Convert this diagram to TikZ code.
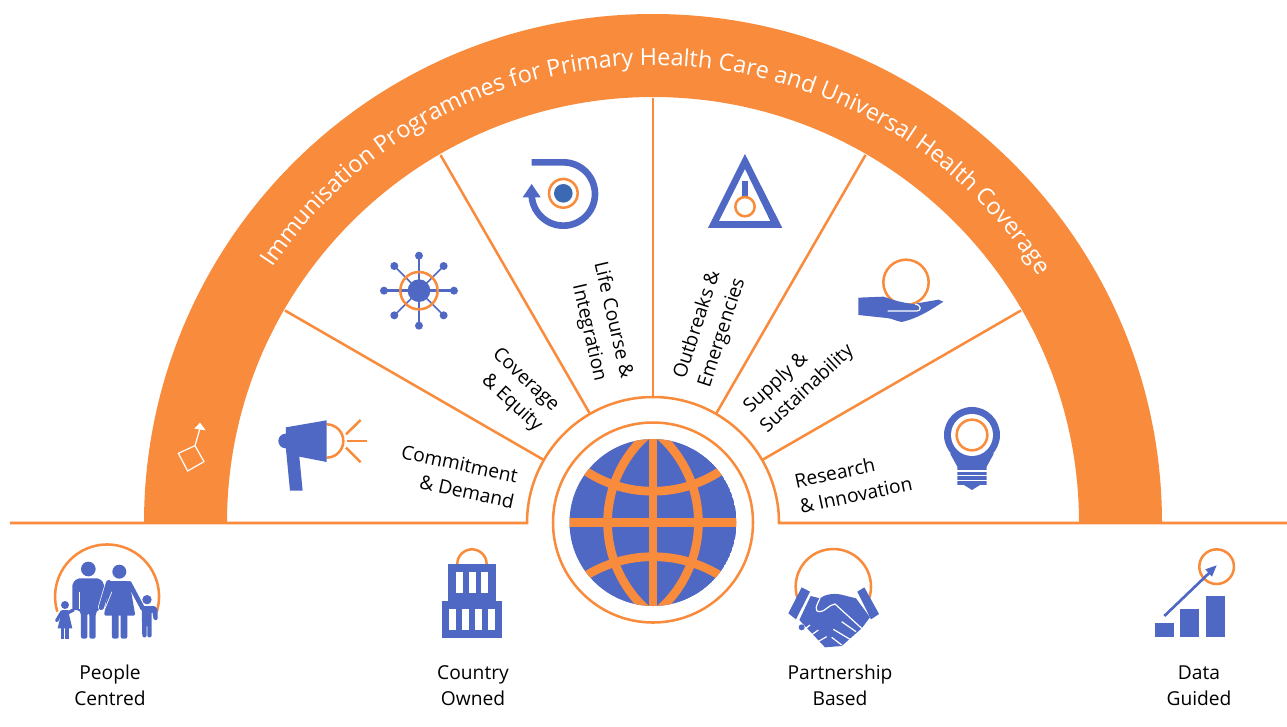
\documentclass[tikz,border=0pt]{standalone}
\usepackage{fontspec}
\setmainfont{Open Sans}
\usetikzlibrary{decorations.text}
\definecolor{archorange}{RGB}{249,140,60}
\definecolor{iconblue}{RGB}{79,104,195}
\definecolor{coreblue}{RGB}{60,105,180}
\tikzset{every picture/.style={line width=0.75pt}}
\tikzset{
  orangeline/.style={draw=archorange,line width=1.9pt},
  orangering/.style={draw=archorange,line width=1.9pt},
  blueshape/.style={fill=iconblue,draw=none},
  blueline/.style={draw=iconblue},
  gapline/.style={draw=white,line width=0.9pt},
  labeltext/.style={align=center,inner sep=0.75pt,text=black,font=\fontsize{14.4}{19.5}\selectfont}
}
\begin{document}
\begin{tikzpicture}[x=0.75pt,y=0.75pt,yscale=-1,xscale=1]
\useasboundingbox (0,0) rectangle (1287,726);

%Shape: Arch
\fill [archorange] (144,523) arc [start angle=-180,end angle=0,radius=509] -- (1079,523) arc [start angle=0,end angle=-180,radius=426] -- cycle;
%Title on the arch
\path [decorate,decoration={text along path,text color=white,text align=center,
  text={|\fontsize{17.6}{24}\selectfont|Immunisation Programmes for Primary Health Care and Universal Health Coverage}}]
  (653,523) ++(-146.4:458) arc [start angle=-146.4,end angle=-32.4,radius=458];

%Straight Lines: horizon and hub
\draw [orangeline] (10,523) -- (527,523) arc [start angle=-180,end angle=0,radius=126] -- (1287,523);
%Straight Lines: spokes
\draw [orangeline] (543.9,460) -- (285,310.5);
\draw [orangeline] (590,413.9) -- (440.5,155);
\draw [orangeline] (653,397) -- (653,98);
\draw [orangeline] (716,413.9) -- (865.5,155);
\draw [orangeline] (762.1,460) -- (1021,310.5);

%Shape: Globe
\draw [orangering] (653,522.5) circle [radius=100];
\begin{scope}
\clip (653,522.5) circle [radius=83.5];
\fill [iconblue] (653,522.5) circle [radius=83.5];
\draw [archorange,line width=6.5pt] (653,430) -- (653,610);
\draw [archorange,line width=6.5pt] (560,522.5) -- (746,522.5);
\draw [archorange,line width=6.5pt] (724.6,522.5) ++(-232:117) arc [start angle=-232,end angle=-128,radius=117];
\draw [archorange,line width=6.5pt] (581.4,522.5) ++(-52:117) arc [start angle=-52,end angle=52,radius=117];
\draw [archorange,line width=6.5pt] (653,368.7) circle [radius=122.5];
\draw [archorange,line width=6.5pt] (653,684.7) circle [radius=128];
\end{scope}

%Shape: Megaphone
\begin{scope}[shift={(150,240)},scale=0.3333]
\draw [orangeline] (530,553) arc [start angle=-90,end angle=90,radius=50];
\draw [orangeline] (588,583) -- (632,540);
\draw [orangeline] (590,603) -- (652,603);
\draw [orangeline] (588,623) -- (632,667);
\fill [blueshape] (407,603) circle [radius=22];
\fill [blueshape] (408,562) -- (530,541) -- (530,666) -- (448,650) -- (458,752) -- (420,752) -- (408,628) -- cycle;
%Shape: Square with arrow
\draw [gapline] (85,640) -- (135,617) -- (162,665) -- (113,693) -- cycle;
\draw [gapline] (135,617) -- (150,565);
\fill [white] (133,566) -- (150,548) -- (167,571) -- cycle;
%Shape: Network
\draw [blueline,line width=1.9pt] (807,47) -- (807,257);
\draw [blueline,line width=1.9pt] (702,152) -- (912,152);
\draw [blueline,line width=1.2pt] (733,78) -- (881,226);
\draw [blueline,line width=1.2pt] (881,78) -- (733,226);
\fill [blueshape] (807,47) circle [radius=12];
\fill [blueshape] (807,257) circle [radius=12];
\fill [blueshape] (702,152) circle [radius=12];
\fill [blueshape] (912,152) circle [radius=12];
\fill [blueshape] (733,78) circle [radius=12];
\fill [blueshape] (881,78) circle [radius=12];
\fill [blueshape] (733,226) circle [radius=12];
\fill [blueshape] (881,226) circle [radius=12];
\fill [blueshape] (807,152) circle [radius=34];
\draw [orangeline] (807,152) circle [radius=56];
\end{scope}

%Shape: Life course and warning
\begin{scope}[shift={(500,140)},scale=0.3333]
\draw [blueline,line width=5pt] (95,67) -- (190,67) arc [start angle=-90,end angle=180,radius=95];
\fill [iconblue] (68,172) -- (95,132) -- (122,172) -- cycle;
\fill [coreblue] (190,160) circle [radius=28];
\draw [orangeline] (190,160) circle [radius=43];
\fill [blueshape,even odd rule] (735,42) -- (847,264) -- (624,264) -- cycle (735,87) -- (657,243) -- (811,243) -- cycle;
\fill [blueshape] (726,123) rectangle (744,175);
\draw [orangeline,fill=white] (735,200) circle [radius=29];
\end{scope}

%Shape: Hand and bulb
\begin{scope}[shift={(840,250)},scale=0.3333]
\draw [orangeline] (198,97) circle [radius=68];
\fill [blueshape] (55,143) -- (130,140) .. controls (150,145) and (165,155) .. (220,162) -- (295,149) -- (310,155) .. controls (280,175) and (235,205) .. (185,216) .. controls (165,212) and (155,205) .. (140,204) -- (55,195) -- cycle;
\draw [gapline] (143,183) -- (230,183) .. controls (245,183) and (245,165) .. (225,162);
\fill [blueshape] (396,555) circle [radius=84];
\fill [blueshape] (330,610) -- (462,610) -- (440,650) -- (440,705) -- (420,705) -- (396,720) -- (372,705) -- (352,705) -- (352,650) -- cycle;
\fill [white] (396,555) circle [radius=63];
\draw [orangeline] (396,555) circle [radius=46];
\draw [gapline] (352,663) -- (440,663);
\draw [gapline] (352,677) -- (440,677);
\draw [gapline] (352,691) -- (440,691);
\end{scope}

%Shape: Family
\begin{scope}[shift={(30,530)},scale=0.3333]
\draw [orangeline] (82,245) arc [start angle=-197,end angle=17,radius=156];
\fill [blueshape] (175,117) circle [radius=22];
\fill [blueshape,rounded corners=1.5pt] (127,160) -- (127,240) -- (147,240) -- (153,250) -- (153,326) -- (172,326) -- (172,250) -- (178,250) -- (178,326) -- (197,326) -- (197,250) -- (205,238) -- (222,238) -- (222,160) -- (208,145) -- (142,145) -- cycle;
\draw [gapline,line width=0.5pt] (147,185) -- (147,236);
\draw [draw=white,line width=5pt,line cap=round] (236,158) -- (214,232);
\draw [blueline,line width=4pt,line cap=round] (236,158) -- (214,232);
\fill [blueshape] (268,125) circle [radius=21];
\fill [blueshape,rounded corners=1.5pt] (238,153) -- (298,153) -- (316,257) -- (222,257) -- cycle;
\fill [blueshape,rounded corners=1.5pt] (246,250) rectangle (266,326);
\fill [blueshape,rounded corners=1.5pt] (272,250) rectangle (292,326);
\draw [gapline,line width=0.5pt] (246,185) -- (224,238);
\draw [blueline,line width=3.5pt,line cap=round] (298,160) -- (338,235);
\fill [blueshape] (351,209) circle [radius=14];
\fill [blueshape,rounded corners=1pt] (335,228) -- (375,228) -- (383,238) -- (383,270) -- (371,270) -- (367,245) -- (365,245) -- (365,322) -- (352,322) -- (352,285) -- (350,285) -- (350,322) -- (337,322) -- cycle;
\fill [blueshape] (105,225) circle [radius=12];
\fill [blueshape] (96,240) -- (114,240) -- (127,295) -- (83,295) -- cycle;
\fill [blueshape] (93,295) rectangle (103,326);
\fill [blueshape] (106,295) rectangle (117,326);
\draw [blueline,line width=2.5pt,line cap=round] (96,245) -- (80,272);
\draw [blueline,line width=2.5pt,line cap=round] (114,248) -- (130,240);
%Shape: Building
\draw [orangeline] (1282,102) arc [start angle=-180,end angle=0,radius=44];
\fill [blueshape] (1255,102) rectangle (1397,213);
\fill [blueshape] (1237,213) rectangle (1415,325);
\fill [white] (1279,126) rectangle (1300,189);
\fill [white] (1316,126) rectangle (1338,189);
\fill [white] (1353,126) rectangle (1374,189);
\fill [white] (1257,236) rectangle (1278,300);
\fill [white] (1296,236) rectangle (1317,300);
\fill [white] (1335,236) rectangle (1356,300);
\fill [white] (1374,236) rectangle (1395,300);
\end{scope}

%Shape: Handshake and bars
\begin{scope}[shift={(770,530)},scale=0.3333]
\draw [orangeline] (190,170) circle [radius=113];
\fill [white] (40,215) rectangle (340,360);
\fill [blueshape] (55,250) -- (95,172) -- (120,185) -- (78,268) -- cycle;
\fill [blueshape] (262,185) -- (283,172) -- (327,252) -- (303,268) -- cycle;
\fill [blueshape] (122,198) -- (150,205) .. controls (165,192) and (190,190) .. (210,193) -- (258,205) -- (300,262) -- (275,295) -- (215,348) -- (165,352) -- (88,270) -- cycle;
\draw [gapline] (150,205) .. controls (140,225) and (130,245) .. (150,245) .. controls (165,245) and (175,225) .. (195,222) -- (275,295);
\draw [gapline] (215,275) -- (258,305);
\draw [gapline] (190,298) -- (240,328);
\draw [gapline] (185,322) -- (215,345);
\draw [gapline] (120,285) -- (95,305);
\draw [gapline] (145,300) -- (110,325);
\draw [gapline] (170,320) -- (135,340);
\fill [blueshape] (95,292) circle [radius=9];
\fill [blueshape] (1155,279) rectangle (1212,321);
\fill [blueshape] (1230,237) rectangle (1287,321);
\fill [blueshape] (1308,198) rectangle (1365,321);
\draw [orangeline] (1340,110) circle [radius=52];
\draw [blueline,line width=2pt] (1183,258) -- (1325,122);
\fill [iconblue] (1340,106) -- (1326,140) -- (1306,118) -- cycle;
\end{scope}

% Text Node
\node (commitmentlabel) [labeltext,rotate=-12] at (457,476.5) {Commitment\\\hspace*{19.5pt}\& Demand};
% Text Node
\node (coveragelabel) [labeltext,rotate=-43] at (516.5,390) {Coverage\\\hspace*{8pt}\& Equity};
% Text Node
\node (lifecourselabel) [labeltext,rotate=-77] at (600,323) {Life Course \&\\\hspace*{10.5pt}Integration};
% Text Node
\node (outbreakslabel) [labeltext,rotate=72] at (710,329) {Outbreaks \&\\Emergencies};
% Text Node
\node (supplylabel) [labeltext,rotate=43] at (785,392.5) {Supply \&\\\hspace*{28pt}Sustainability};
% Text Node
\node (researchlabel) [labeltext,rotate=12] at (837.5,485.5) {Research\\\hspace*{24pt}\& Innovation};
% Text Node
\node (peoplelabel) [labeltext] at (110,685) {People\\Centred};
% Text Node
\node (countrylabel) [labeltext] at (473,686) {Country\\Owned};
% Text Node
\node (partnershiplabel) [labeltext] at (840,685) {Partnership\\Based};
% Text Node
\node (datalabel) [labeltext] at (1199,686) {Data\\Guided};

\end{tikzpicture}
\end{document}
